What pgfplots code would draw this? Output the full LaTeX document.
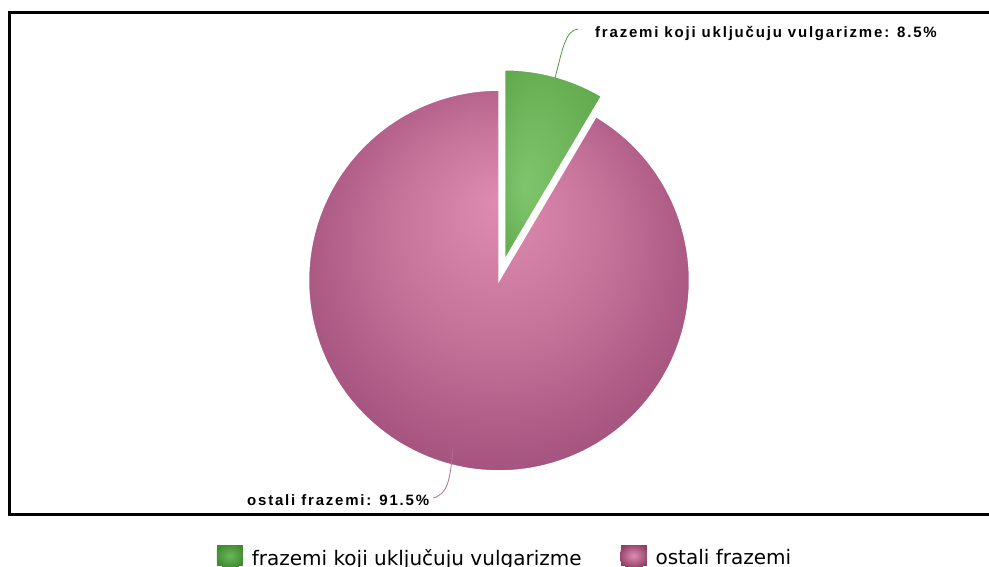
\documentclass[border=0pt]{standalone}
\usepackage{pgfplots}
\pgfplotsset{compat=1.18}
\usepackage{pgfplotstable}
\usepackage{fontspec}
\setmainfont{DejaVu Sans}
\newfontfamily\lblfont[LetterSpace=12]{Liberation Sans}

\definecolor{pkIn}{HTML}{DF8CB1}
\definecolor{pkMid}{HTML}{C6739A}
\definecolor{pkEdge}{HTML}{A65580}
\definecolor{pkOut}{HTML}{913E67}
\definecolor{gnIn}{HTML}{80C56D}
\definecolor{gnOut}{HTML}{5AA346}
\definecolor{gnLegIn}{HTML}{6CB55A}
\definecolor{gnLegOut}{HTML}{3E8A2E}
\definecolor{gnLine}{HTML}{4A9A3A}
\definecolor{pkLine}{HTML}{B86A90}

\pgfdeclareradialshading{pinkpie}{\pgfpoint{0bp}{10.5bp}}{color(0bp)=(pkIn); color(14bp)=(pkMid); color(27bp)=(pkEdge); color(36bp)=(pkOut)}
\pgfdeclareradialshading{greenpie}{\pgfpoint{-15bp}{-6bp}}{color(0bp)=(gnIn); color(40bp)=(gnOut)}
\pgfdeclareradialshading{greenleg}{\pgfpoint{0bp}{0bp}}{color(0bp)=(gnLegIn); color(30bp)=(gnLegOut)}
\pgfdeclareradialshading{pinkleg}{\pgfpoint{0bp}{0bp}}{color(0bp)=(pkIn); color(30bp)=(pkOut)}

\pgfplotstableread{
label value
vulgarizmi 8.5
ostali 91.5
}\pietable

\begin{document}
\begin{tikzpicture}
\pgfplotstablegetelem{0}{value}\of\pietable
\pgfmathsetmacro{\va}{\pgfplotsretval}
\pgfmathsetmacro{\aMid}{90-3.6*\va}
\pgfmathsetmacro{\bis}{(90+\aMid)/2}
\pgfmathsetmacro{\gx}{499+21*cos(\bis)}
\pgfmathsetmacro{\gy}{280.5-21*sin(\bis)}
\begin{axis}[
  scale only axis, width=989bp, height=567bp,
  xmin=0, xmax=989, ymin=0, ymax=567, y dir=reverse,
  hide axis, clip=false,
  legend columns=2,
  legend style={draw=none, fill=none, at={(axis cs:505,557)}, anchor=center,
    font=\fontsize{20bp}{24bp}\selectfont,
    /tikz/every even column/.append style={column sep=37bp}},
]
% pink slice (91.5 %)
\addplot[forget plot, draw=white, line width=1.5bp, fill=pkMid,
  path picture={\shade[path picture={}, draw=none, shading=pinkpie] (axis cs:308.5,90) rectangle (axis cs:689.5,471);},
  domain=-270:\aMid, samples=180, variable=\t]
  ({499+190.5*cos(\t)},{280.5-190.5*sin(\t)}) -- (axis cs:499,280.5) -- cycle;
% green slice (8.5 %), exploded
\addplot[forget plot, draw=white, line width=1.5bp, fill=gnOut,
  path picture={\shade[path picture={}, draw=none, shading=greenpie] (axis cs:505,72) rectangle (axis cs:601,261);},
  domain=\aMid:90, samples=30, variable=\t]
  ({\gx+190.5*cos(\t)},{\gy-190.5*sin(\t)}) -- (axis cs:\gx,\gy) -- cycle;

\addlegendimage{legend image code/.code={\path[draw=none] (0bp,0bp) -- (33bp,0bp); \fill[draw=none,gnLegOut] (0bp,-8bp) rectangle (26bp,13bp); \shade[draw=none,shading=greenleg] (0bp,-8bp) rectangle (26bp,13bp);}}
\addlegendentry{frazemi koji uključuju vulgarizme}
\addlegendimage{legend image code/.code={\path[draw=none] (0bp,0bp) -- (33bp,0bp); \fill[draw=none,pkOut] (0bp,-8bp) rectangle (26bp,13bp); \shade[draw=none,shading=pinkleg] (0bp,-8bp) rectangle (26bp,13bp);}}
\addlegendentry{ostali frazemi}

% leader lines and labels
\draw[gnLine, line width=0.8bp] (axis cs:555,78) .. controls (axis cs:562,52) and (axis cs:565,30) .. (axis cs:578,29);
\draw[pkLine, line width=0.8bp] (axis cs:453,449) .. controls (axis cs:450,480) and (axis cs:448,494) .. (axis cs:433,498);
\node[anchor=base west, inner sep=0pt, font=\lblfont\bfseries\fontsize{15bp}{18bp}\selectfont] at (axis cs:595,38) {frazemi koji uključuju vulgarizme: 8.5\%};
\node[anchor=base west, inner sep=0pt, font=\lblfont\bfseries\fontsize{15bp}{18bp}\selectfont] at (axis cs:247,505) {ostali frazemi: 91.5\%};

% frame
\draw[line width=3bp] (axis cs:9.5,12.5) -- (axis cs:1000,12.5);
\draw[line width=3bp] (axis cs:9.5,11) -- (axis cs:9.5,514);
\draw[line width=3bp] (axis cs:8,514) -- (axis cs:1000,514);
\end{axis}
\pgfresetboundingbox
\useasboundingbox (0,0) rectangle (989bp,567bp);
\end{tikzpicture}
\end{document}
